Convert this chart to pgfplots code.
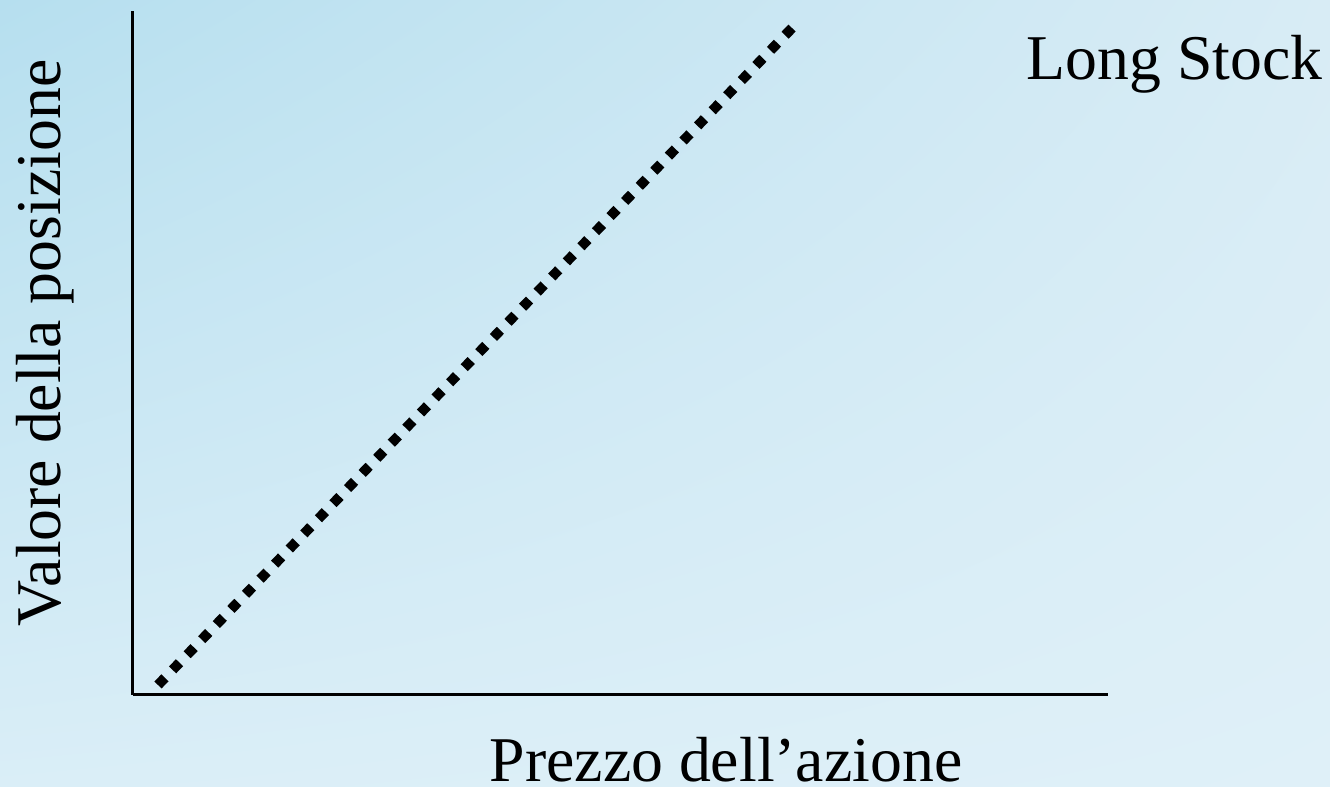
\documentclass[border=0pt]{standalone}
\usepackage{pgfplots}
\pgfplotsset{compat=1.18}
\usepackage{fontspec}
\setmainfont{Liberation Serif}
\usetikzlibrary{shadings}
\definecolor{bgUL}{RGB}{182,223,239}
\definecolor{bgUR}{RGB}{216,236,245}
\definecolor{bgLL}{RGB}{218,238,247}
\definecolor{bgLR}{RGB}{223,240,248}
\begin{document}
\begin{tikzpicture}
\useasboundingbox (-53.2pt,-36.8pt) rectangle (478.8pt,278pt);
\shade[upper left=bgUL, upper right=bgUR, lower left=bgLL, lower right=bgLR] (-53.2pt,-36.8pt) rectangle (478.8pt,278pt);
\begin{axis}[
  at={(0,0)}, anchor=origin,
  width=390pt, height=273.6pt, scale only axis,
  xmin=0, xmax=975, ymin=0, ymax=684,
  axis lines=left, axis line style={-, line width=1.2pt, black},
  xtick=\empty, ytick=\empty,
  clip=false,
]
\addplot[black, line width=4pt, dash pattern=on 4pt off 4.4pt, line cap=butt] coordinates {(25,10) (662,670)};
\node[rotate=90, font=\fontsize{25.5}{30}\selectfont] at (axis cs:-88,352) {Valore della posizione};
\node[anchor=base, font=\fontsize{25.5}{30}\selectfont] at (axis cs:593,-87) {Prezzo dell’azione};
\node[anchor=base west, inner sep=0pt, font=\fontsize{25.5}{30}\selectfont] at (axis cs:893,615) {Long Stock};
\end{axis}
\end{tikzpicture}
\end{document}
